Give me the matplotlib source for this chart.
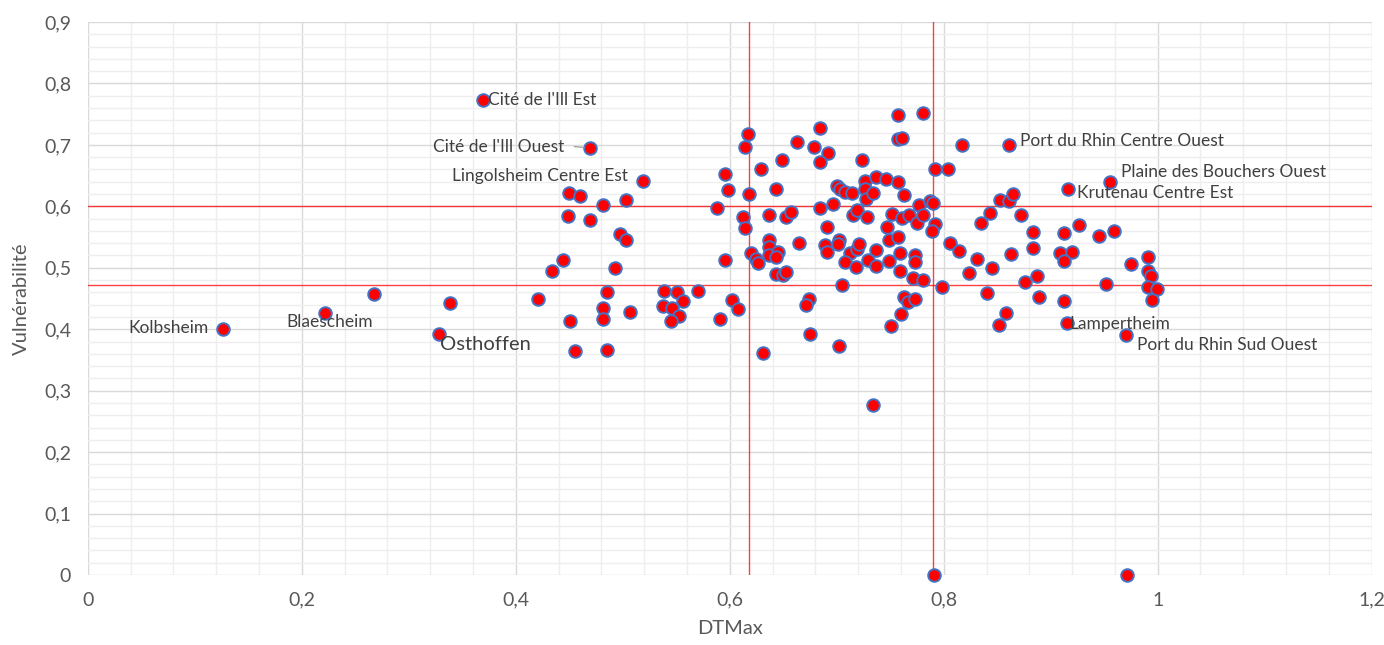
import matplotlib.pyplot as plt
from matplotlib.ticker import MultipleLocator, FuncFormatter

plt.rcParams['font.family'] = ['Lato', 'DejaVu Sans']

# DTMax / Vulnérabilité of the unlabeled districts
dtmax = [0.268, 0.339,
         0.450, 0.460, 0.482, 0.503, 0.449, 0.469, 0.497, 0.503, 0.444, 0.588,
         0.434, 0.493, 0.421, 0.485, 0.482, 0.482, 0.451, 0.507, 0.455, 0.485,
         0.539, 0.551, 0.556, 0.570, 0.538, 0.546, 0.553, 0.545, 0.591,
         0.617, 0.614, 0.663, 0.684, 0.679, 0.692, 0.684, 0.649, 0.629, 0.596,
         0.598, 0.618, 0.643, 0.612, 0.614, 0.637, 0.653, 0.657, 0.684, 0.697,
         0.691, 0.700, 0.703, 0.708, 0.714, 0.724, 0.726, 0.726, 0.727, 0.734,
         0.737, 0.746, 0.757, 0.763, 0.757, 0.757, 0.761, 0.715, 0.719, 0.728,
         0.752, 0.761, 0.768, 0.775, 0.777, 0.747, 0.637, 0.702, 0.749, 0.757,
         0.781, 0.817, 0.792, 0.804, 0.787, 0.790, 0.853, 0.861, 0.865, 0.781,
         0.792, 0.789, 0.835, 0.843, 0.872, 0.883, 0.912, 0.926, 0.945, 0.959,
         0.596, 0.620, 0.625, 0.626, 0.637, 0.637, 0.645, 0.643, 0.665, 0.689,
         0.691, 0.701, 0.643, 0.650, 0.653, 0.712, 0.708, 0.718, 0.719, 0.721,
         0.729, 0.737, 0.737, 0.749, 0.759, 0.759, 0.773, 0.773, 0.771, 0.705,
         0.602, 0.608, 0.674, 0.671, 0.675, 0.631, 0.702, 0.763, 0.767, 0.760,
         0.751, 0.734, 0.806, 0.814, 0.831, 0.863, 0.883, 0.909, 0.920, 0.912,
         0.781, 0.824, 0.845, 0.798, 0.840, 0.876, 0.887, 0.889, 0.912, 0.952,
         0.975, 0.991, 0.991, 0.994, 0.991, 0.999, 0.995, 0.773, 0.858, 0.852,
         0.791, 0.971]
vuln = [0.458, 0.443,
        0.622, 0.617, 0.602, 0.611, 0.585, 0.578, 0.555, 0.546, 0.513, 0.597,
        0.494, 0.500, 0.450, 0.461, 0.435, 0.417, 0.413, 0.428, 0.364, 0.366,
        0.463, 0.460, 0.446, 0.462, 0.438, 0.434, 0.421, 0.414, 0.417,
        0.718, 0.697, 0.704, 0.727, 0.697, 0.686, 0.672, 0.676, 0.660, 0.652,
        0.626, 0.620, 0.628, 0.583, 0.565, 0.586, 0.583, 0.590, 0.597, 0.603,
        0.566, 0.633, 0.629, 0.623, 0.621, 0.676, 0.642, 0.628, 0.612, 0.622,
        0.647, 0.644, 0.640, 0.618, 0.749, 0.709, 0.711, 0.586, 0.594, 0.583,
        0.588, 0.581, 0.586, 0.573, 0.602, 0.567, 0.546, 0.545, 0.545, 0.550,
        0.752, 0.700, 0.661, 0.661, 0.609, 0.605, 0.610, 0.609, 0.620, 0.586,
        0.571, 0.560, 0.573, 0.589, 0.586, 0.558, 0.557, 0.569, 0.552, 0.560,
        0.513, 0.524, 0.514, 0.507, 0.534, 0.521, 0.526, 0.518, 0.540, 0.537,
        0.526, 0.539, 0.490, 0.489, 0.493, 0.524, 0.509, 0.501, 0.531, 0.539,
        0.513, 0.529, 0.503, 0.511, 0.524, 0.495, 0.521, 0.509, 0.483, 0.472,
        0.448, 0.433, 0.450, 0.440, 0.392, 0.362, 0.373, 0.453, 0.445, 0.424,
        0.406, 0.277, 0.540, 0.527, 0.515, 0.522, 0.532, 0.524, 0.526, 0.511,
        0.480, 0.491, 0.500, 0.469, 0.459, 0.477, 0.487, 0.453, 0.446, 0.474,
        0.506, 0.517, 0.494, 0.487, 0.468, 0.466, 0.448, 0.449, 0.426, 0.407,
        0.0, 0.0]

# labeled districts
names = ["Kolbsheim", "Blaescheim", "Osthoffen", "Cité de l'Ill Est",
         "Cité de l'Ill Ouest", "Lingolsheim Centre Est",
         "Port du Rhin Centre Ouest", "Plaine des Bouchers Ouest",
         "Krutenau Centre Est", "Lampertheim", "Port du Rhin Sud Ouest"]
name_dtmax = [0.126, 0.222, 0.328, 0.369, 0.469, 0.519, 0.861, 0.955, 0.916, 0.915, 0.970]
name_vuln = [0.400, 0.427, 0.392, 0.773, 0.695, 0.641, 0.700, 0.639, 0.628, 0.410, 0.390]

# threshold lines
x_thresholds = [0.618, 0.790]
y_thresholds = [0.600, 0.472]

fig = plt.figure(figsize=(13.84, 6.45), dpi=100)
ax = fig.add_axes([0.0634, 0.1085, 0.9277, 0.8574])

ax.set_xlim(0, 1.2)
ax.set_ylim(0, 0.9)
ax.xaxis.set_major_locator(MultipleLocator(0.2))
ax.xaxis.set_minor_locator(MultipleLocator(0.04))
ax.yaxis.set_major_locator(MultipleLocator(0.1))
ax.yaxis.set_minor_locator(MultipleLocator(0.02))
fmt = FuncFormatter(lambda v, p: ('%g' % round(v, 2)).replace('.', ','))
ax.xaxis.set_major_formatter(fmt)
ax.yaxis.set_major_formatter(fmt)

ax.grid(which='major', color='#d9d9d9', linewidth=1.0)
ax.grid(which='minor', color='#eeeeee', linewidth=1.0)
ax.set_axisbelow(True)
for s in ax.spines.values():
    s.set_visible(False)
ax.tick_params(which='both', length=0, labelsize=14, colors='#595959', pad=12)

for xv in x_thresholds:
    ax.axvline(xv, color='#ff0000', alpha=0.75, linewidth=1.0, zorder=1.5)
for yv in y_thresholds:
    ax.axhline(yv, color='#ff0000', alpha=0.75, linewidth=1.0, zorder=1.5)

ax.scatter(dtmax + name_dtmax, vuln + name_vuln, s=82, color='#ff0000',
           edgecolors='#4472c4', linewidths=1.4, zorder=3, clip_on=False)

# label offsets in points (dx, dy, ha)
offsets = [(-10, 1, 'right'), (3, -7, 'center'), (1, -7.5, 'left'),
           (4, 0, 'left'), (-18, 1, 'right'), (-11, 4, 'right'),
           (8, 3, 'left'), (8.5, 7.5, 'left'), (6.5, -2.5, 'left'),
           (2, -0.5, 'left'), (8, -7, 'left')]
for i, name in enumerate(names):
    dx, dy, ha = offsets[i]
    size = 14.5 if name == "Osthoffen" else 12.5
    ax.annotate(name, (name_dtmax[i], name_vuln[i]), xytext=(dx, dy),
                textcoords='offset points', ha=ha, va='center',
                fontsize=size, color='#404040', zorder=4)
# leader line for Cité de l'Ill Ouest
ax.annotate('', (name_dtmax[4], name_vuln[4]), xytext=(-11, 1),
            textcoords='offset points',
            arrowprops=dict(arrowstyle='-', color='#a6a6a6', lw=1,
                            shrinkA=0, shrinkB=4))

ax.set_xlabel('DTMax', fontsize=14.5, color='#595959', labelpad=8)
ax.set_ylabel('Vulnérabilité', fontsize=14.5, color='#595959', labelpad=10)

plt.savefig('out.png', dpi=100)
